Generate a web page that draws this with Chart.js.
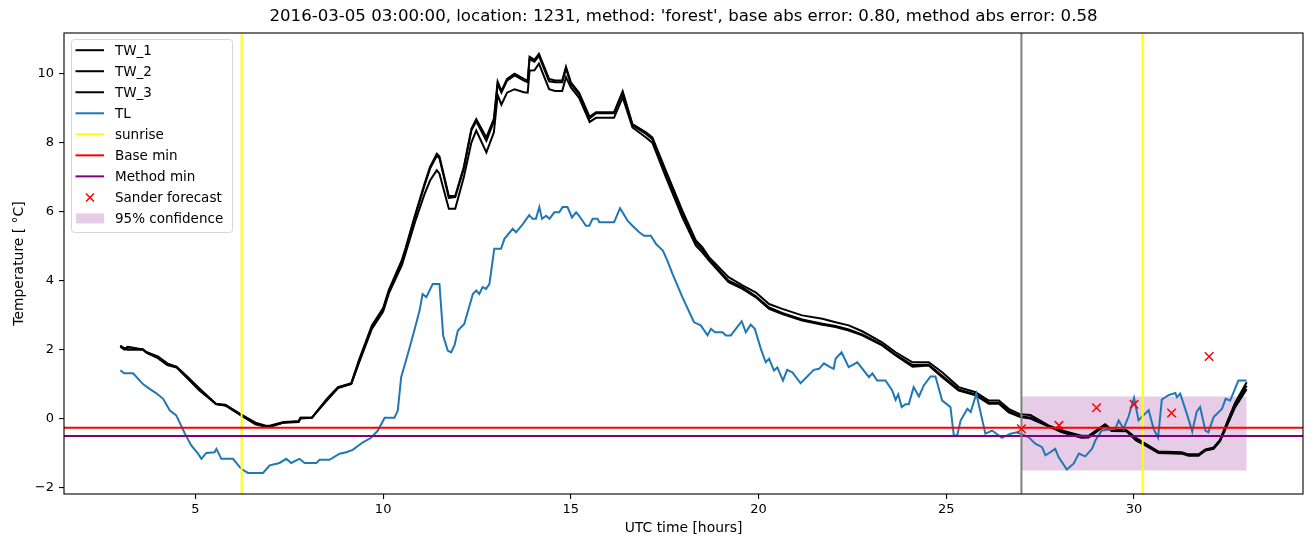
<!DOCTYPE html>
<html>
<head>
<meta charset="utf-8">
<script src="https://cdn.jsdelivr.net/npm/chart.js@4/dist/chart.umd.min.js"></script>
<style>
  html, body { margin: 0; padding: 0; background: #fff; }
  #wrap { width: 1313px; height: 547px; }
</style>
</head>
<body>
<div id="wrap"><canvas id="tempChart" width="1313" height="547"></canvas></div>
<script>
// ---- data ----
const twHours = [3.0, 3.1, 3.2, 3.6, 3.7, 4.0, 4.25, 4.5, 4.8, 5.1, 5.55, 5.8, 6.2, 6.6, 6.9, 7.0, 7.35, 7.75, 7.8, 8.1,
  8.5, 8.8, 9.15, 9.35, 9.7, 10.0, 10.15, 10.5, 10.6, 10.85, 11.1, 11.25, 11.43, 11.5, 11.75, 11.92, 12.15, 12.35, 12.48, 12.75,
  12.95, 13.05, 13.15, 13.3, 13.5, 13.75, 13.85, 13.9, 14.03, 14.15, 14.42, 14.58, 14.77, 14.87, 15.0, 15.22, 15.5, 15.67, 16.15, 16.38,
  16.64, 17.0, 17.17, 17.53, 17.97, 18.33, 18.5, 18.68, 19.2, 19.57, 19.92, 20.28, 20.63, 21.16, 21.7, 22.05, 22.4, 22.76, 23.29, 23.65,
  24.1, 24.53, 24.89, 25.33, 25.78, 26.13, 26.4, 26.66, 26.97, 27.24, 27.72, 28.08, 28.6, 28.79, 29.05, 29.23, 29.4, 29.8, 30.05, 30.3,
  30.65, 31.27, 31.45, 31.72, 31.9, 32.12, 32.29, 32.5, 32.69, 33.0];
const tw1 = [2.12, 2.02, 2.08, 2.0, 1.92, 1.8, 1.6, 1.5, 1.2, 0.88, 0.42, 0.4, 0.13, -0.12, -0.22, -0.2, -0.1, -0.08, 0.02, 0.02,
  0.57, 0.91, 1.02, 1.68, 2.7, 3.2, 3.72, 4.6, 4.95, 5.9, 6.8, 7.3, 7.68, 7.6, 6.45, 6.45, 7.3, 8.4, 8.68, 8.15,
  8.7, 9.77, 9.5, 9.85, 10.0, 9.85, 9.8, 10.49, 10.4, 10.58, 9.85, 9.8, 9.8, 10.2, 9.75, 9.45, 8.75, 8.88, 8.88, 9.49,
  8.54, 8.3, 8.15, 7.19, 6.03, 5.16, 4.97, 4.68, 4.1, 3.86, 3.66, 3.32, 3.18, 2.99, 2.89, 2.79, 2.7, 2.53, 2.21, 1.92,
  1.63, 1.63, 1.34, 0.91, 0.76, 0.52, 0.52, 0.28, 0.12, 0.1, -0.2, -0.35, -0.5, -0.5, -0.3, -0.17, -0.33, -0.34, -0.56, -0.73,
  -0.96, -0.98, -1.04, -1.04, -0.9, -0.84, -0.62, -0.05, 0.45, 1.05];
const tw2 = [2.1, 2.05, 2.0, 2.0, 1.92, 1.78, 1.58, 1.5, 1.18, 0.86, 0.42, 0.38, 0.12, -0.15, -0.23, -0.22, -0.12, -0.08, 0.02, 0.02,
  0.55, 0.9, 1.0, 1.62, 2.65, 3.15, 3.68, 4.55, 4.9, 5.85, 6.75, 7.25, 7.62, 7.55, 6.4, 6.42, 7.25, 8.35, 8.62, 8.05,
  8.62, 9.7, 9.45, 9.8, 9.95, 9.8, 9.75, 10.42, 10.35, 10.52, 9.78, 9.75, 9.75, 10.15, 9.7, 9.4, 8.7, 8.85, 8.85, 9.45,
  8.5, 8.25, 8.1, 7.12, 5.95, 5.1, 4.9, 4.62, 4.0, 3.8, 3.55, 3.22, 3.06, 2.87, 2.75, 2.68, 2.58, 2.44, 2.14, 1.85,
  1.55, 1.56, 1.24, 0.84, 0.7, 0.46, 0.46, 0.22, 0.06, 0.03, -0.22, -0.38, -0.54, -0.53, -0.32, -0.19, -0.35, -0.36, -0.6, -0.76,
  -0.98, -1.0, -1.06, -1.06, -0.92, -0.86, -0.64, -0.1, 0.38, 0.95];
const tw3 = [2.08, 2.0, 2.0, 2.0, 1.9, 1.75, 1.55, 1.48, 1.15, 0.82, 0.42, 0.38, 0.1, -0.17, -0.25, -0.24, -0.12, -0.1, 0.0, 0.02,
  0.52, 0.88, 1.0, 1.6, 2.6, 3.1, 3.62, 4.45, 4.8, 5.7, 6.5, 6.9, 7.2, 7.1, 6.08, 6.08, 7.0, 8.0, 8.35, 7.72,
  8.3, 9.38, 9.1, 9.45, 9.55, 9.46, 9.45, 10.09, 10.1, 10.29, 9.55, 9.5, 9.5, 9.9, 9.6, 9.3, 8.6, 8.72, 8.72, 9.31,
  8.44, 8.15, 8.0, 7.0, 5.83, 5.01, 4.82, 4.58, 3.95, 3.76, 3.52, 3.18, 3.03, 2.84, 2.72, 2.65, 2.55, 2.41, 2.12, 1.83,
  1.5, 1.54, 1.2, 0.81, 0.67, 0.43, 0.43, 0.18, 0.04, 0.0, -0.23, -0.4, -0.56, -0.55, -0.35, -0.2, -0.36, -0.37, -0.64, -0.78,
  -1.0, -1.02, -1.08, -1.08, -0.93, -0.88, -0.66, -0.15, 0.32, 0.85];

const tlHours = [3.0, 3.1, 3.34, 3.61, 3.78, 3.96, 4.14, 4.32, 4.49, 4.72, 4.89, 5.07, 5.16, 5.29, 5.51, 5.56, 5.69, 6.0, 6.22, 6.4,
  6.8, 6.98, 7.24, 7.42, 7.55, 7.77, 7.91, 8.22, 8.31, 8.57, 8.84, 9.02, 9.19, 9.46, 9.68, 9.86, 10.04, 10.3, 10.39, 10.48,
  10.66, 10.83, 10.97, 11.05, 11.15, 11.32, 11.5, 11.6, 11.72, 11.81, 11.9, 11.99, 12.16, 12.39, 12.48, 12.56, 12.65, 12.74, 12.83, 12.96,
  13.14, 13.23, 13.45, 13.54, 13.72, 13.89, 13.98, 14.07, 14.16, 14.23, 14.34, 14.43, 14.56, 14.69, 14.78, 14.91, 15.03, 15.14, 15.22, 15.4,
  15.49, 15.58, 15.71, 15.76, 16.15, 16.31, 16.51, 16.64, 16.82, 16.95, 17.13, 17.27, 17.45, 17.57, 17.71, 17.97, 18.28, 18.46, 18.64, 18.73,
  18.84, 19.04, 19.13, 19.26, 19.55, 19.66, 19.79, 19.9, 20.06, 20.19, 20.28, 20.41, 20.5, 20.65, 20.76, 20.9, 21.12, 21.47, 21.61, 21.74,
  21.92, 22.0, 22.05, 22.21, 22.4, 22.63, 22.94, 23.03, 23.16, 23.38, 23.56, 23.65, 23.72, 23.81, 23.91, 24.0, 24.13, 24.27, 24.4, 24.58,
  24.71, 24.89, 25.02, 25.11, 25.2, 25.29, 25.38, 25.56, 25.65, 25.8, 26.04, 26.22, 26.48, 26.71, 26.88, 27.19, 27.37, 27.55, 27.64, 27.77,
  27.9, 27.99, 28.21, 28.39, 28.53, 28.7, 28.88, 28.97, 29.14, 29.5, 29.59, 29.72, 29.85, 30.0, 30.12, 30.25, 30.39, 30.52, 30.64, 30.74,
  30.92, 31.1, 31.14, 31.23, 31.42, 31.55, 31.67, 31.76, 31.9, 31.98, 32.12, 32.34, 32.44, 32.56, 32.78, 33.0];
const tlValues = [1.4, 1.31, 1.31, 0.99, 0.86, 0.73, 0.57, 0.23, 0.09, -0.44, -0.78, -1.02, -1.17, -1.0, -0.98, -0.88, -1.17, -1.17, -1.46, -1.58,
  -1.58, -1.36, -1.29, -1.17, -1.29, -1.17, -1.29, -1.29, -1.2, -1.2, -1.02, -0.98, -0.91, -0.69, -0.56, -0.35, 0.02, 0.02, 0.23, 1.2,
  1.88, 2.55, 3.13, 3.61, 3.52, 3.9, 3.9, 2.4, 1.97, 1.92, 2.12, 2.55, 2.74, 3.61, 3.71, 3.61, 3.81, 3.76, 3.9, 4.92,
  4.92, 5.21, 5.5, 5.4, 5.64, 5.9, 5.79, 5.79, 6.13, 5.79, 5.88, 5.79, 5.98, 5.98, 6.13, 6.13, 5.83, 5.98, 5.88, 5.59,
  5.59, 5.79, 5.79, 5.69, 5.69, 6.1, 5.74, 5.59, 5.4, 5.3, 5.3, 5.06, 4.87, 4.58, 4.19, 3.52, 2.79, 2.7, 2.41, 2.6,
  2.5, 2.5, 2.41, 2.41, 2.82, 2.5, 2.72, 2.6, 2.02, 1.63, 1.73, 1.39, 1.48, 1.1, 1.41, 1.34, 1.02, 1.41, 1.44, 1.6,
  1.48, 1.44, 1.73, 1.92, 1.49, 1.63, 1.2, 1.31, 1.1, 1.1, 0.81, 0.54, 0.7, 0.33, 0.41, 0.41, 0.91, 0.64, 0.96, 1.22,
  1.22, 0.52, 0.41, 0.33, -0.49, -0.49, -0.06, 0.28, 0.19, 0.72, -0.44, -0.35, -0.56, -0.44, -0.4, -0.54, -0.73, -0.83, -1.07, -0.98,
  -0.88, -1.12, -1.48, -1.31, -1.02, -1.1, -0.88, -0.64, -0.35, -0.3, -0.06, -0.3, 0.05, 0.6, -0.05, 0.09, 0.24, -0.3, -0.56, 0.55,
  0.68, 0.74, 0.62, 0.72, 0.09, -0.38, 0.2, 0.33, -0.35, -0.4, 0.04, 0.28, 0.57, 0.52, 1.1, 1.1];

const sunriseHours = [6.23, 30.23];
const forecastStartHour = 27;
const baseMin = -0.27;
const methodMin = -0.51;
const forecastHours = [27, 28, 29, 30, 31, 32];
const forecastValues = [-0.3, -0.2, 0.31, 0.41, 0.16, 1.8];
const bandHours = [27, 33];
const bandLow = -1.51;
const bandHigh = 0.64;

const xTicks = [5, 10, 15, 20, 25, 30];
const yTicks = [-2, 0, 2, 4, 6, 8, 10];
const xLimits = [1.5, 34.5];
const yLimits = [-2.19, 11.18];

const titleText = "2016-03-05 03:00:00, location: 1231, method: 'forest', base abs error: 0.80, method abs error: 0.58";
const FONT = "'DejaVu Sans', sans-serif";
const BAND_COLOR = 'rgba(128, 0, 128, 0.2)';

function pts(xs, ys) {
  return xs.map((x, i) => ({ x: x, y: ys[i] }));
}

function lineSet(label, data, color, order) {
  return {
    label: label, data: data, borderColor: color, backgroundColor: color,
    borderWidth: 2, pointRadius: 0, tension: 0, fill: false, order: order
  };
}

const datasets = [
  {
    type: 'scatter', label: 'Sander forecast', data: pts(forecastHours, forecastValues),
    pointStyle: 'crossRot', pointRadius: 6, borderColor: '#ff0000', backgroundColor: '#ff0000',
    borderWidth: 1.5, showLine: false, order: 0
  },
  lineSet('forecast start', [{ x: forecastStartHour, y: yLimits[0] }, { x: forecastStartHour, y: yLimits[1] }], '#808080', 1),
  lineSet('Method min', [{ x: xLimits[0], y: methodMin }, { x: xLimits[1], y: methodMin }], '#800080', 2),
  lineSet('Base min', [{ x: xLimits[0], y: baseMin }, { x: xLimits[1], y: baseMin }], '#ff0000', 3),
  lineSet('sunrise', [{ x: sunriseHours[0], y: yLimits[0] }, { x: sunriseHours[0], y: yLimits[1] }], '#ffff00', 4),
  lineSet('sunrise 2', [{ x: sunriseHours[1], y: yLimits[0] }, { x: sunriseHours[1], y: yLimits[1] }], '#ffff00', 4),
  lineSet('TL', pts(tlHours, tlValues), '#1f77b4', 5),
  lineSet('TW_3', pts(twHours, tw3), '#000000', 6),
  lineSet('TW_2', pts(twHours, tw2), '#000000', 7),
  lineSet('TW_1', pts(twHours, tw1), '#000000', 8),
  {
    label: '95% confidence', data: [{ x: bandHours[0], y: bandHigh }, { x: bandHours[1], y: bandHigh }],
    borderWidth: 0, borderColor: 'rgba(0,0,0,0)', backgroundColor: BAND_COLOR,
    pointRadius: 0, fill: { value: bandLow }, order: 9
  }
];

// legend entries like matplotlib's
const legendItems = [
  { text: 'TW_1', kind: 'line', color: '#000000' },
  { text: 'TW_2', kind: 'line', color: '#000000' },
  { text: 'TW_3', kind: 'line', color: '#000000' },
  { text: 'TL', kind: 'line', color: '#1f77b4' },
  { text: 'sunrise', kind: 'line', color: '#ffff00' },
  { text: 'Base min', kind: 'line', color: '#ff0000' },
  { text: 'Method min', kind: 'line', color: '#800080' },
  { text: 'Sander forecast', kind: 'cross', color: '#ff0000' },
  { text: '95% confidence', kind: 'patch', color: BAND_COLOR }
];

const framePlugin = {
  id: 'frame',
  afterDraw(chart) {
    const { ctx, chartArea: a } = chart;
    ctx.save();
    // axes box
    ctx.strokeStyle = '#000';
    ctx.lineWidth = 1.1;
    ctx.strokeRect(a.left, a.top, a.right - a.left, a.bottom - a.top);

    // title
    ctx.fillStyle = '#000';
    ctx.font = '16.6px ' + FONT;
    ctx.textAlign = 'center';
    ctx.textBaseline = 'middle';
    ctx.fillText(titleText, (a.left + a.right) / 2, 17);

    // legend box
    const bx = 71.5, by = 39.5, bw = 161, bh = 193, r = 3;
    ctx.beginPath();
    ctx.moveTo(bx + r, by);
    ctx.arcTo(bx + bw, by, bx + bw, by + bh, r);
    ctx.arcTo(bx + bw, by + bh, bx, by + bh, r);
    ctx.arcTo(bx, by + bh, bx, by, r);
    ctx.arcTo(bx, by, bx + bw, by, r);
    ctx.closePath();
    ctx.fillStyle = 'rgba(255,255,255,0.8)';
    ctx.fill();
    ctx.strokeStyle = '#d6d6d6';
    ctx.lineWidth = 1;
    ctx.stroke();

    ctx.font = '13.5px ' + FONT;
    ctx.textAlign = 'left';
    ctx.textBaseline = 'middle';
    legendItems.forEach((item, i) => {
      const yy = 50.2 + i * 21.03;
      if (item.kind === 'line') {
        ctx.strokeStyle = item.color;
        ctx.lineWidth = 2;
        ctx.beginPath();
        ctx.moveTo(75.5, yy);
        ctx.lineTo(104, yy);
        ctx.stroke();
      } else if (item.kind === 'cross') {
        ctx.strokeStyle = item.color;
        ctx.lineWidth = 1.5;
        ctx.beginPath();
        ctx.moveTo(86, yy - 4); ctx.lineTo(94, yy + 4);
        ctx.moveTo(86, yy + 4); ctx.lineTo(94, yy - 4);
        ctx.stroke();
      } else {
        ctx.fillStyle = item.color;
        ctx.fillRect(76, yy - 5, 28, 10);
      }
      ctx.fillStyle = '#000';
      ctx.fillText(item.text, 115, yy + 1);
    });
    ctx.restore();
  }
};

const tickFont = { family: FONT, size: 13 };
const labelFont = { family: FONT, size: 13.9 };

new Chart(document.getElementById('tempChart').getContext('2d'), {
  type: 'line',
  data: { datasets: datasets },
  options: {
    responsive: false,
    animation: false,
    events: [],
    layout: { padding: { top: 33, right: 10, left: 0, bottom: 0 } },
    plugins: { legend: { display: false }, tooltip: { enabled: false }, title: { display: false } },
    scales: {
      x: {
        type: 'linear', min: xLimits[0], max: xLimits[1],
        afterBuildTicks: s => { s.ticks = xTicks.map(v => ({ value: v })); },
        afterFit: s => { s.height = 53; },
        grid: { drawOnChartArea: false, drawTicks: true, tickLength: 5, color: '#000', lineWidth: 1.1 },
        border: { display: false },
        ticks: { color: '#000', font: tickFont, padding: 3, maxRotation: 0, autoSkip: false },
        title: { display: true, text: 'UTC time [hours]', color: '#000', font: labelFont, padding: { top: 0, bottom: 10 } }
      },
      y: {
        type: 'linear', min: yLimits[0], max: yLimits[1],
        afterBuildTicks: s => { s.ticks = yTicks.map(v => ({ value: v })); },
        afterFit: s => { s.width = 64; },
        grid: { drawOnChartArea: false, drawTicks: true, tickLength: 5, color: '#000', lineWidth: 1.1 },
        border: { display: false },
        ticks: { color: '#000', font: tickFont, padding: 5, autoSkip: false,
          callback: v => (v < 0 ? '\u2212' + Math.abs(v) : String(v)) },
        title: { display: true, text: 'Temperature [ \u00b0C]', color: '#000', font: labelFont, padding: { top: 11, bottom: 0 } }
      }
    }
  },
  plugins: [framePlugin]
});
</script>
</body>
</html>
